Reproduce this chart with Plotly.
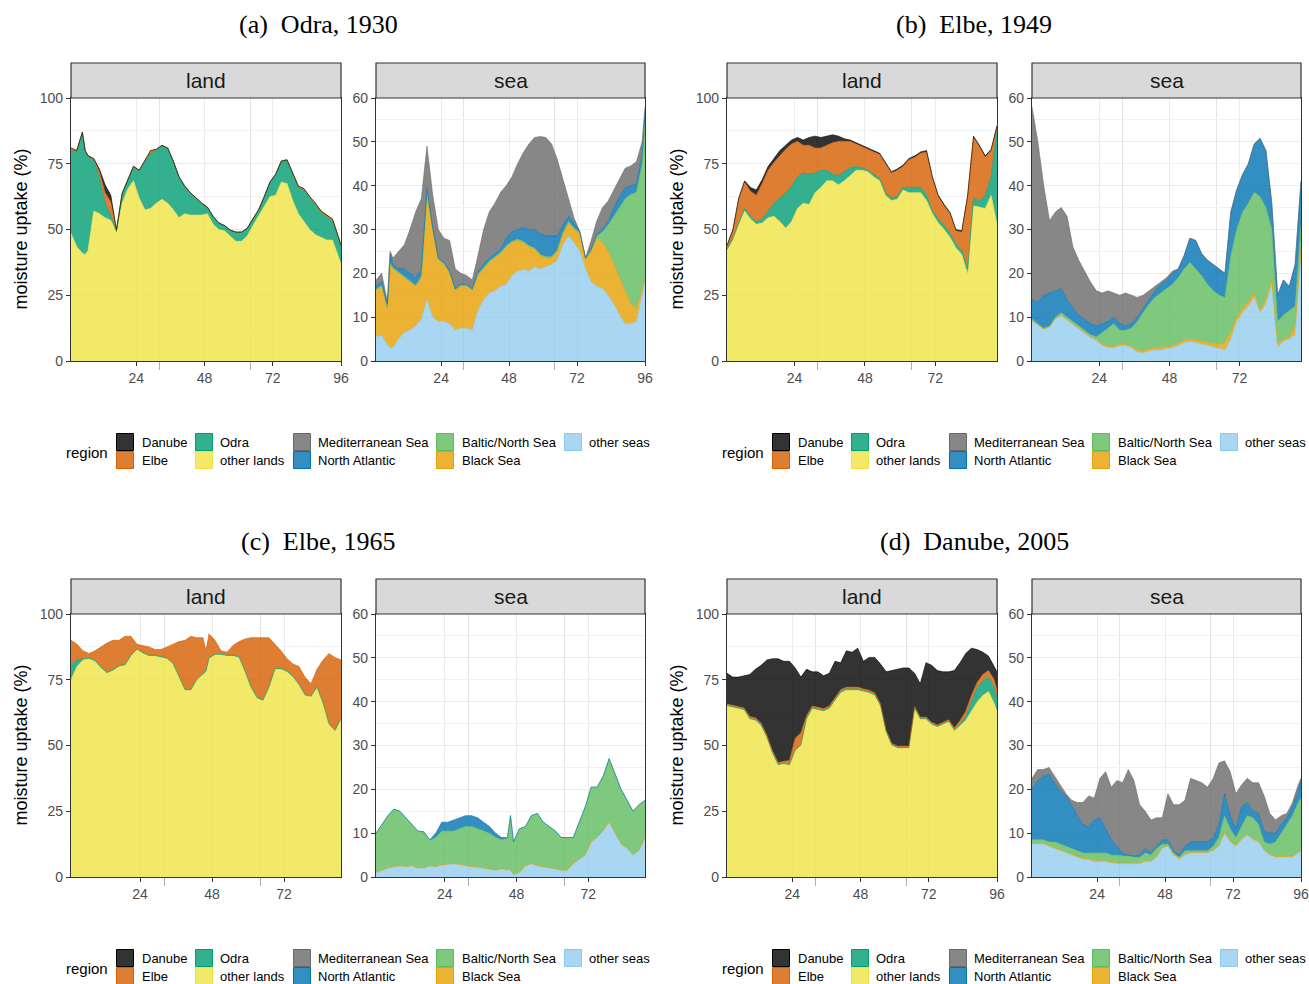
import plotly.graph_objects as go

W, H = 1309, 984

# ---------------- data ----------------
hours_a = [1, 3, 5, 6] + list(range(7, 96, 2)) + [96]
hours_b = list(range(1, 94, 2))
hours_c = list(range(1, 46, 2)) + [46] + list(range(47, 92, 2))
hours_d = list(range(1, 96, 2)) + [96]

# (a) Odra, 1930 - land
a_land_other = [48.6, 43.5, 41, 40.5, 42, 57, 56, 54.5, 53.5, 49, 60, 65.5, 68.5, 62, 57.5, 58, 60, 61.5, 60, 57.5, 54.5,
                56, 55.5, 55.5, 55.5, 56, 52, 50, 49.5, 47.5, 45.5, 45.5, 47.5, 51.5, 55, 59, 62.5, 63, 68, 67.5, 61,
                56, 53, 50, 48, 47, 46, 46, 40, 37]
a_land_odra = [31.4, 36, 46, 39.5, 36, 19.5, 13.5, 5.5, 2, 0.2, 3.8, 3.5, 5.5, 10.5, 18.5, 21, 20, 20.5, 21, 18.5, 15.5,
               10.5, 8.5, 6.5, 4.5, 2.5, 3, 2.5, 2, 2.3, 3.5, 3.5, 3, 2.5, 2.5, 3.5, 5.5, 8, 8, 9, 10.5,
               10, 12, 11.9, 11.4, 9.3, 8.8, 7.3, 7, 6.7]
a_land_elbe = [1, 0.5, 0, 0, 0, 0.5, 2.5, 4, 5, 0.5, 0, 0, 0, 0, 0, 1, 0.5, 0, 0, 0, 0,
               0, 0, 0, 0, 0, 0, 0, 0, 0, 0, 0, 0, 0, 0, 0, 0, 0, 0, 0, 0,
               0.5, 0.5, 0.6, 0.6, 0.7, 0.7, 0.7, 0.5, 0.3]
a_land_danube = [0, 0, 0, 0, 0, 0, 1, 3, 2.5, 0.3, 0, 0, 0, 0, 0, 0, 0, 0, 0, 0, 0,
                 0, 0, 0, 0, 0, 0, 0, 0, 0, 0, 0, 0, 0, 0, 0, 0, 0, 0, 0, 0,
                 0, 0, 0, 0, 0, 0, 0, 0, 0]
# (a) sea
a_sea_other = [5.6, 5.8, 3.7, 3, 3, 5, 6.5, 7, 8, 9.5, 14, 10, 9, 9, 8.5, 7, 7.5, 7.5, 7, 11.5, 14,
               15.5, 16, 17, 17.5, 19.5, 20.5, 20.8, 20.5, 21.5, 21, 21.5, 22, 23, 26.5, 28.5, 27, 25, 21, 18, 17,
               16.5, 15, 13, 10.5, 8.5, 8.5, 9, 15, 18]
a_sea_black = [10.4, 11.2, 8.3, 19, 18, 15, 12.5, 11, 9, 9.5, 24, 20, 14, 13, 11.5, 9, 9.5, 9.5, 9, 8, 7,
               7, 7.5, 7.5, 8.5, 7.5, 7, 6.2, 5.5, 4, 3, 2, 1.5, 2, 2.5, 3, 3, 4, 2, 7, 11,
               10.5, 10, 9, 8.5, 7.5, 4.5, 3, 1.5, 0.5]
a_sea_baltic = [0.3, 0.3, 0.2, 0.3, 0.3, 0.3, 0.3, 0.3, 0.3, 0.3, 0.3, 0.3, 0.3, 0.3, 0.3, 0.3, 0.3, 0.3, 0.3, 0.3, 0.3,
                0.3, 0.3, 0.3, 0.3, 0.3, 0.3, 0.3, 0.3, 0.3, 0.3, 0.3, 0.3, 0.3, 0.3, 0.3, 0.3, 0.3, 0.3, 0.3, 0.5,
                2.5, 6, 11, 16, 21, 25, 26.5, 28.5, 36.5]
a_sea_natl = [0.7, 0.7, 0.8, 2.2, 0.7, 0.7, 1.7, 1.7, 1.7, 1.7, 1.2, 0.2, 0.2, 0.2, 0.2, 0.2, 0.2, 0.2, 0.2, 0.7, 0.7,
              0.7, 0.7, 0.7, 1.7, 2.2, 2.2, 3.2, 3.7, 4.2, 4.7, 4.7, 4.7, 3.2, 1.7, 1.2, 1.2, 0.2, 0.2, 0.2, 0.5,
              0.5, 1, 2, 2.5, 2.5, 2, 2, 2, 2]
a_sea_med = [1.5, 2, 0.5, 0.5, 1.5, 4, 5.5, 10, 15, 16, 9.5, 7.5, 6.5, 5.5, 7, 4.5, 2.5, 2, 2, 3.5, 8,
             10.5, 11.5, 13, 12, 12.5, 15, 17, 19.5, 21, 22.2, 22.5, 21, 17.5, 10.5, 3.5, 1, 0, 0, 2, 3,
             5, 4.5, 4, 4, 4.5, 4.5, 5, 3, 1]

# (b) Elbe, 1949 - land
b_land_other = [42, 46, 52, 57, 54, 52, 52.5, 54.5, 55, 53, 50.5, 53, 58, 60, 59.5, 64, 66, 68.5, 68.5, 67,
                68.5, 70.5, 72.5, 72.5, 72, 70, 68.5, 63, 61, 61.5, 65, 64, 64, 64, 61, 56, 52.5, 50, 47, 43,
                40.5, 33, 59, 58.5, 58, 63, 52]
b_land_odra = [0.5, 0.5, 0.5, 1, 1, 1, 1.5, 2.5, 5, 9, 13.5, 13.5, 12, 11.5, 11.5, 7.5, 6.5, 4, 2.5, 3.5,
               3.5, 3, 1.5, 1, 0.5, 1, 1, 1, 1, 1, 1, 2, 2, 2, 2, 1, 1.5, 1.5, 1.5, 1.5,
               1.5, 2, 3, 2.5, 5, 7, 36]
b_land_elbe = [1, 3, 9, 10, 9.5, 10, 13.5, 15.5, 15.5, 16, 16.5, 16, 13.5, 10.5, 11, 9.5, 8.5, 9.5, 12, 13,
               11.5, 10, 8.5, 8, 8, 8.5, 9, 11, 9.5, 10, 8, 10.5, 11.5, 13, 16.5, 12.5, 8.5, 7.5, 7.5, 5,
               7, 27.5, 23, 20.5, 14.5, 10, 1]
b_land_danube = [0.5, 0.5, 0.5, 0.5, 1.5, 2, 1.5, 1.5, 1.5, 2, 1.5, 1.5, 1.5, 2, 3, 4.5, 4, 3.5, 3, 2,
                 1, 0.5, 0.5, 0.5, 0.5, 0.5, 0.5, 0.5, 0.5, 0.5, 0.5, 0.5, 0.5, 0.5, 0.5, 0.5, 0.5, 0.5, 0.5, 0.5,
                 0.5, 0.5, 0.5, 0.5, 0.5, 0.5, 0.5]
# (b) sea
b_sea_other = [9.2, 8.2, 7.2, 7.7, 9.6, 10.3, 9.3, 8.3, 7.3, 6.3, 5.3, 4.7, 3.5, 3, 3, 3.5, 3.5, 3, 2, 1.8,
               2.3, 2.5, 2.5, 2.8, 3, 3.5, 4.2, 4.4, 4.2, 3.8, 3.6, 3.2, 2.8, 2.5, 5, 9, 11, 12.5, 14.5, 11,
               13, 17.5, 3, 4.5, 5, 6, 25]
b_sea_black = [0.1, 0.1, 0.1, 0.1, 0.2, 0.2, 0.2, 0.2, 0.2, 0.2, 0.2, 0.3, 0.3, 0.3, 0.3, 0.3, 0.3, 0.3, 0.5, 0.5,
               0.5, 0.5, 0.5, 0.5, 0.5, 0.5, 0.6, 0.6, 0.6, 0.7, 0.7, 0.8, 1, 1.8, 1.5, 1, 1, 1, 1, 0.5,
               1, 1, 1, 0.5, 0.5, 2, 0.3]
b_sea_baltic = [0.2, 0.2, 0.2, 0.2, 0.2, 0.5, 0.5, 0.5, 0.5, 0.5, 0.5, 0.5, 2.7, 4.2, 5.2, 3.2, 3.2, 4.2, 6.5, 8.7,
                10.2, 11.5, 12.5, 13.2, 14, 15, 16.2, 17.5, 16.2, 15, 13.2, 12, 11.2, 10.2, 17.5, 20, 22, 22.5, 23, 26,
                21, 11.5, 5, 5.5, 6, 4.5, 5.7]
b_sea_natl = [4.5, 5, 7.5, 7.5, 6, 5.5, 4, 3, 2.5, 2.5, 2.5, 2.5, 2, 1.5, 1.5, 1.5, 1, 1, 1, 1,
              1, 1.5, 2, 2, 2.5, 2, 3, 5.5, 6.5, 5, 5.5, 6, 6, 5.5, 10, 9, 8.5, 9, 11, 13.3,
              13, 6, 6, 8, 5.5, 9.5, 10]
b_sea_med = [44, 36.5, 25, 16.5, 18, 18.5, 19, 14, 12.5, 11, 9.5, 8, 7, 7, 5.5, 6.5, 7.5, 6.5, 4.5, 3,
             2, 1, 0.5, 0.5, 0.5, 0, 0, 0, 0, 0, 0, 0, 0, 0, 0, 0, 0, 0, 0, 0,
             0, 0, 0, 0, 0, 0, 0]

# (c) Elbe, 1965 - land
c_land_other = [75, 80, 82.5, 83, 82, 79.5, 77.5, 78.5, 80, 80.5, 84, 86.5, 85, 84, 84, 83.5, 83, 81, 76, 71,
                71, 75, 77, 78, 83, 84.5, 84.5, 84, 84, 83.5, 78, 72, 68, 67, 72, 79, 79, 78, 76, 73, 69,
                68.5, 72, 66, 58, 55.5, 60]
c_land_odra = [5.5, 2.5, 0.5, 0.3, 0.3, 0.3, 0.3, 0.3, 0.3, 0.3, 0.3, 0.3, 0.3, 0.3, 0.3, 0.3, 0.3, 0.3, 0.3, 0.3,
               0.3, 0.3, 0.3, 0.3, 0.3, 0.3, 0.3, 0.3, 0.3, 0.3, 0.3, 0.3, 0.3, 0.3, 0.3, 0.3, 0.3, 0.3, 0.3, 0.3, 0.3,
               0.3, 0.3, 0.3, 0.3, 0.3, 0.3]
c_land_elbe = [9.5, 6, 3, 1.7, 3.7, 7.7, 11.2, 11.2, 9.7, 10.7, 7.2, 1.7, 2.7, 3.2, 2.2, 2.7, 4.2, 7.2, 13.2, 18.7,
               20.2, 15.7, 13.7, 7.7, 9.2, 5.2, 1.2, 1.2, 3.7, 5.7, 12.2, 18.7, 22.7, 23.7, 18.7, 9.2, 6.7, 4.7, 4.7, 6.7, 6.7,
               4.7, 6.7, 16.2, 26.7, 27.7, 22.2]
c_land_danube = [0, 0, 0, 0, 0, 0, 0, 0, 0, 0, 0, 0, 0, 0, 0, 0, 0, 0, 0, 0,
                 0, 0, 0, 0, 0, 0, 0, 0, 0, 0, 0, 0, 0, 0, 0, 0, 0, 0, 0, 0, 0,
                 0, 0, 0, 0, 0, 0]
# (c) sea
c_sea_other = [1, 1.5, 2, 2.3, 2.5, 2.3, 2.5, 2, 2, 2.5, 2.3, 2.7, 2.8, 3, 2.8, 2.5, 2.3, 2.2, 2, 1.8,
               1.5, 1.8, 1.5, 1.5, 0.5, 1, 2.5, 3, 2.5, 2.3, 2, 1.8, 1.5, 1.5, 3, 4, 5, 8, 9, 10.5, 12.5,
               10, 7.5, 6.5, 5, 6, 9]
c_sea_black = [0.1, 0.1, 0.1, 0.1, 0.1, 0.1, 0.1, 0.1, 0.1, 0.1, 0.1, 0.1, 0.1, 0.1, 0.1, 0.1, 0.1, 0.1, 0.1, 0.1,
               0.1, 0.1, 0.1, 0.1, 0.1, 0.1, 0.1, 0.1, 0.1, 0.1, 0.1, 0.1, 0.1, 0.1, 0.1, 0.1, 0.1, 0.1, 0.1, 0.1, 0.1,
               0.1, 0.1, 0.1, 0.1, 0.1, 0.1]
c_sea_baltic = [8.9, 10.4, 11.9, 13.1, 12.4, 11.1, 9.4, 8.4, 8.2, 5.7, 6.6, 7.7, 7.6, 7.4, 8.1, 8.9, 9.1, 8.7, 8.4, 8.1,
                7.4, 6.6, 7.2, 12.4, 7.4, 9.9, 8.9, 10.9, 11.9, 10.1, 9.4, 8.6, 7.4, 7.4, 5.9, 8.4, 10.9, 12.4, 11.4, 12.4, 14.4,
                13.4, 12.4, 10.9, 9.9, 10.4, 8.4]
c_sea_natl = [0, 0, 0, 0, 0, 0, 0, 0, 0, 0.2, 1, 2, 2, 2.5, 2.5, 2.5, 2.5, 2.5, 2, 1.5,
              1, 0.5, 0.2, 0, 0, 0, 0, 0, 0, 0, 0, 0, 0, 0, 0, 0, 0, 0, 0, 0, 0,
              0, 0, 0, 0, 0, 0]
c_sea_med = [0, 0, 0, 0, 0, 0, 0, 0, 0, 0, 0, 0, 0, 0, 0, 0, 0, 0, 0, 0,
             0, 0, 0, 0, 0, 0, 0, 0, 0, 0, 0, 0, 0, 0, 0, 0, 0, 0, 0, 0, 0,
             0, 0, 0, 0, 0, 0]

# (d) Danube, 2005 - land
d_land_other = [65, 64.5, 64, 63.5, 60, 59.5, 57.5, 53, 47, 42.5, 43, 42.5, 48, 50, 60, 64, 63.5, 63, 64, 67,
                70, 71, 71, 71, 70.5, 70, 69, 65, 55, 50, 49, 49, 49, 64, 60, 60, 58, 57, 58, 59,
                55.5, 57.5, 59.5, 63, 66.5, 69, 70.5, 66, 63]
d_land_odra = [0.3, 0.3, 0.3, 0.3, 0.3, 0.3, 0.3, 0.3, 0.3, 0.3, 0.3, 0.3, 0.3, 0.3, 0.3, 0.3, 0.3, 0.3, 0.3, 0.3,
               0.5, 0.5, 0.5, 0.5, 0.3, 0.3, 0.3, 0.3, 0.3, 0.3, 0.3, 0.3, 0.3, 0.3, 0.3, 0.3, 0.3, 0.3, 0.3, 0.3,
               0.5, 0.5, 1.5, 3.5, 5.5, 5.5, 5.5, 6, 5]
d_land_elbe = [0.5, 0.5, 0.5, 0.5, 0.7, 0.7, 0.7, 0.7, 0.7, 0.7, 0.7, 1.5, 4.5, 4.5, 1, 0.7, 0.7, 0.7, 0.7, 0.7,
               0.7, 0.7, 0.7, 0.7, 0.7, 0.7, 0.7, 0.5, 0.5, 0.5, 0.5, 0.5, 0.5, 0.5, 0.5, 0.5, 0.5, 0.5, 0.5, 0.5,
               0.7, 1.5, 2, 2.5, 2, 2.5, 2.5, 3, 3]
d_land_danube = [11.7, 10.7, 11.2, 12.2, 16, 18.5, 22, 28.5, 35, 39.5, 38, 37.7, 26.7, 21.2, 17.7, 13, 13.5, 12.5, 12.5, 14,
                 10.3, 13.8, 13.3, 14.8, 10.5, 12.5, 13.5, 15.2, 22.2, 27.7, 29.2, 29.7, 29.7, 12.7, 12.7, 20.7, 21.7, 20.7, 19.2, 18.2,
                 21.8, 22, 22, 18, 12.5, 8.5, 5.5, 5, 7]
# (d) sea
d_sea_other = [7.5, 7.5, 7.5, 7, 6.5, 6, 5.5, 5, 4.5, 4, 4, 3.5, 3.5, 3.5, 3.2, 3, 3, 3, 3, 3,
               3.5, 3.5, 4.5, 6.5, 7, 5, 4, 5, 5.5, 5.5, 5.5, 5.5, 6, 7, 10, 8, 7, 8.5, 9.5, 8.5,
               8, 6, 5, 4.5, 4.5, 4.5, 4.5, 5.5, 6]
d_sea_black = [0.2, 0.2, 0.2, 0.2, 0.2, 0.2, 0.2, 0.2, 0.2, 0.2, 0.2, 0.2, 0.2, 0.2, 0.2, 0.2, 0.2, 0.2, 0.2, 0.2,
               0.2, 0.2, 0.2, 0.2, 0.2, 0.2, 0.2, 0.2, 0.2, 0.2, 0.2, 0.2, 0.2, 0.2, 0.2, 0.2, 0.2, 0.2, 0.2, 0.2,
               0.2, 0.2, 0.2, 0.2, 0.2, 0.2, 0.2, 0.2, 0.2]
d_sea_baltic = [0.8, 0.8, 0.8, 0.8, 1.3, 1.3, 1.3, 1.3, 1.3, 1.3, 1.3, 1.8, 1.8, 1.8, 1.6, 1.8, 1.6, 1.6, 1.3, 1.3,
                1.8, 1.3, 1.8, 0.8, 0.3, 0.3, 0.3, 0.8, 0.3, 0.3, 0.3, 0.3, 0.8, 1.8, 3.8, 2.8, 1.8, 2.8, 4.3, 4.8,
                3.8, 1.8, 2.3, 3.3, 5.3, 7.3, 9.3, 11.3, 11.8]
d_sea_natl = [11.5, 13.5, 14.5, 15.5, 13.5, 12, 11.5, 10, 8, 6.5, 6, 7.5, 8, 5.5, 3.5, 2, 0.7, 0.2, 0.3, 0.5,
              1, 0.5, 0.5, 1, 1, 0.5, 0.5, 1, 2, 2, 2, 2, 2, 3, 5, 3, 2, 4.5, 3, 1.5,
              2.5, 2.5, 2.5, 2, 2, 1.5, 2, 2.5, 4]
d_sea_med = [2.5, 2.5, 1.5, 1.5, 1.5, 1.5, 0.5, 1, 3, 5, 7, 5, 9, 13, 12, 15, 16, 19.5, 17.2, 11.5,
             8.5, 7.5, 6.5, 5, 10.5, 10.5, 11.5, 10.5, 14.5, 14, 13.5, 12.5, 13.5, 14, 7.5, 10, 8, 5, 5.5, 6.5,
             7, 8, 4.5, 3, 2, 1, 1, 1.5, 0.5]

panel_titles = ["(a)\u00a0\u00a0Odra, 1930", "(b)\u00a0\u00a0Elbe, 1949",
                "(c)\u00a0\u00a0Elbe, 1965", "(d)\u00a0\u00a0Danube, 2005"]
x_ticks = [24, 48, 72, 96]
land_ticks = [0, 25, 50, 75, 100]
sea_ticks = [0, 10, 20, 30, 40, 50, 60]

# ---------------- styles ----------------
BASE = {
    "Danube": (0, 0, 0), "Elbe": (213, 94, 0), "Odra": (0, 158, 115), "other lands": (240, 228, 66),
    "Mediterranean Sea": (105, 105, 105), "North Atlantic": (0, 114, 178), "Baltic/North Sea": (95, 187, 95),
    "Black Sea": (230, 159, 0), "other seas": (140, 200, 236),
}
ALPHA = {k: 0.8 for k in BASE}
ALPHA["other seas"] = 0.75


def fill(n):
    r, g, b = BASE[n]
    return f"rgba({r},{g},{b},{ALPHA[n]})"


def line(n):
    r, g, b = BASE[n]
    return f"rgb({r},{g},{b})"


SANS = "Liberation Sans, Arial, sans-serif"
SERIF = "Liberation Serif, Times New Roman, serif"

panels = [
    dict(hours=hours_a, xmax=96,
         land=[("other lands", a_land_other), ("Odra", a_land_odra), ("Elbe", a_land_elbe), ("Danube", a_land_danube)],
         sea=[("other seas", a_sea_other), ("Black Sea", a_sea_black), ("Baltic/North Sea", a_sea_baltic),
              ("North Atlantic", a_sea_natl), ("Mediterranean Sea", a_sea_med)]),
    dict(hours=hours_b, xmax=93,
         land=[("other lands", b_land_other), ("Odra", b_land_odra), ("Elbe", b_land_elbe), ("Danube", b_land_danube)],
         sea=[("other seas", b_sea_other), ("Black Sea", b_sea_black), ("Baltic/North Sea", b_sea_baltic),
              ("North Atlantic", b_sea_natl), ("Mediterranean Sea", b_sea_med)]),
    dict(hours=hours_c, xmax=91,
         land=[("other lands", c_land_other), ("Odra", c_land_odra), ("Elbe", c_land_elbe), ("Danube", c_land_danube)],
         sea=[("other seas", c_sea_other), ("Black Sea", c_sea_black), ("Baltic/North Sea", c_sea_baltic),
              ("North Atlantic", c_sea_natl), ("Mediterranean Sea", c_sea_med)]),
    dict(hours=hours_d, xmax=96,
         land=[("other lands", d_land_other), ("Odra", d_land_odra), ("Elbe", d_land_elbe), ("Danube", d_land_danube)],
         sea=[("other seas", d_sea_other), ("Black Sea", d_sea_black), ("Baltic/North Sea", d_sea_baltic),
              ("North Atlantic", d_sea_natl), ("Mediterranean Sea", d_sea_med)]),
]

# pixel geometry of panels
OFFX = [0, 656, 0, 656]
OFFY = [0, 0, 516, 516]
LAND_X = (71, 341)
SEA_X = (376, 645)
PLOT_Y = (98, 361)
STRIP_Y = (63, 98)

fig = go.Figure()
layout = {}
shapes = []
annotations = []


def px2x(x):
    return x / W


def px2y(y):
    return 1 - y / H


axis_font = dict(family=SANS, size=14, color="#4D4D4D")
ax_i = 0
for p_i, p in enumerate(panels):
    ox, oy = OFFX[p_i], OFFY[p_i]
    for kind, xr in (("land", LAND_X), ("sea", SEA_X)):
        ax_i += 1
        xn = "x" if ax_i == 1 else f"x{ax_i}"
        yn = "y" if ax_i == 1 else f"y{ax_i}"
        x0, x1 = xr[0] + ox, xr[1] + ox
        y0, y1 = PLOT_Y[0] + oy, PLOT_Y[1] + oy
        for name, vals in p[kind]:
            lw = 0 if max(vals) == 0 else 0.6
            fig.add_trace(go.Scatter(
                x=p["hours"], y=vals, mode="lines", name=name, showlegend=False,
                stackgroup=f"{kind}{p_i}", fillcolor=fill(name),
                line=dict(color=line(name), width=lw, shape="linear"),
                xaxis=xn, yaxis=yn, hoverinfo="skip"))
        ymax = 100 if kind == "land" else 60
        yt = land_ticks if kind == "land" else sea_ticks
        ym = [12.5, 37.5, 62.5, 87.5] if kind == "land" else [5, 15, 25, 35, 45, 55]
        layout["xaxis" if ax_i == 1 else f"xaxis{ax_i}"] = dict(
            domain=[px2x(x0), px2x(x1)], anchor=yn, range=[1, p["xmax"]], automargin=False,
            tickmode="array", tickvals=x_ticks, ticks="outside", ticklen=4, tickwidth=1,
            tickcolor="#333333", showline=True, linecolor="#333333", linewidth=1.2, mirror=True,
            showgrid=True, gridcolor="#EBEBEB", gridwidth=1.2, zeroline=False, tickfont=axis_font,
            minor=dict(tickmode="array", tickvals=[32, 64], ticks="outside", ticklen=8, tickcolor="#B0B0B0",
                       showgrid=True, gridcolor="#E4E4E4", gridwidth=1),
            fixedrange=True)
        layout["yaxis" if ax_i == 1 else f"yaxis{ax_i}"] = dict(
            domain=[px2y(y1), px2y(y0)], anchor=xn, range=[0, ymax], automargin=False,
            tickmode="array", tickvals=yt, ticks="outside", ticklen=4, tickwidth=1,
            tickcolor="#333333", showline=True, linecolor="#333333", linewidth=1.2, mirror=True,
            showgrid=True, gridcolor="#EBEBEB", gridwidth=1.2, zeroline=False, tickfont=axis_font,
            minor=dict(tickmode="array", tickvals=ym, ticks="", showgrid=True, gridcolor="#F2F2F2", gridwidth=0.6),
            fixedrange=True)
        # strip
        sy0, sy1 = STRIP_Y[0] + oy, STRIP_Y[1] + oy
        shapes.append(dict(type="rect", xref="paper", yref="paper", x0=px2x(x0), x1=px2x(x1),
                           y0=px2y(sy1), y1=px2y(sy0), fillcolor="#D9D9D9",
                           line=dict(color="#333333", width=1.2), layer="above"))
        annotations.append(dict(text=kind, xref="paper", yref="paper", x=px2x((x0 + x1) / 2),
                                y=px2y((sy0 + sy1) / 2), showarrow=False, xanchor="center", yanchor="middle",
                                font=dict(family=SANS, size=21, color="#1A1A1A")))
    # y-axis title
    annotations.append(dict(text="moisture uptake (%)", xref="paper", yref="paper", x=px2x(20 + ox),
                            y=px2y((PLOT_Y[0] + PLOT_Y[1]) / 2 + oy), textangle=-90, showarrow=False,
                            xanchor="center", yanchor="middle", font=dict(family=SANS, size=18, color="black")))
    # panel title
    annotations.append(dict(text=panel_titles[p_i], xref="paper", yref="paper", x=px2x(318 + ox),
                            y=px2y(25 + oy), showarrow=False, xanchor="center", yanchor="middle",
                            font=dict(family=SERIF, size=26, color="black")))
    # legend
    annotations.append(dict(text="region", xref="paper", yref="paper", x=px2x(64 + ox), y=px2y(452 + oy),
                            showarrow=False, xanchor="left", yanchor="middle",
                            font=dict(family=SANS, size=15, color="black")))
    cols = [["Danube", "Elbe"], ["Odra", "other lands"], ["Mediterranean Sea", "North Atlantic"],
            ["Baltic/North Sea", "Black Sea"], ["other seas"]]
    key_x = [116, 195, 293, 436, 564]
    lab_x = [140, 218, 316, 460, 587]
    row_y = [433, 451]
    for ci, col in enumerate(cols):
        for ri, name in enumerate(col):
            kx0 = key_x[ci] + ox
            ky0 = row_y[ri] + oy
            shapes.append(dict(type="rect", xref="paper", yref="paper", x0=px2x(kx0 + 0.5), x1=px2x(kx0 + 17.5),
                               y0=px2y(ky0 + 17.5), y1=px2y(ky0 + 0.5), fillcolor=fill(name),
                               line=dict(color=line(name), width=1)))
            annotations.append(dict(text=name, xref="paper", yref="paper", x=px2x(lab_x[ci] + ox),
                                    y=px2y(ky0 + 9), showarrow=False, xanchor="left",
                                    yanchor="middle", font=dict(family=SANS, size=13, color="black")))

fig.update_layout(**layout)
fig.update_layout(width=W, height=H, margin=dict(l=0, r=0, t=0, b=0, pad=0, autoexpand=False),
                  plot_bgcolor="white", paper_bgcolor="white", showlegend=False,
                  shapes=shapes, annotations=annotations)
fig.write_html("out.html")
